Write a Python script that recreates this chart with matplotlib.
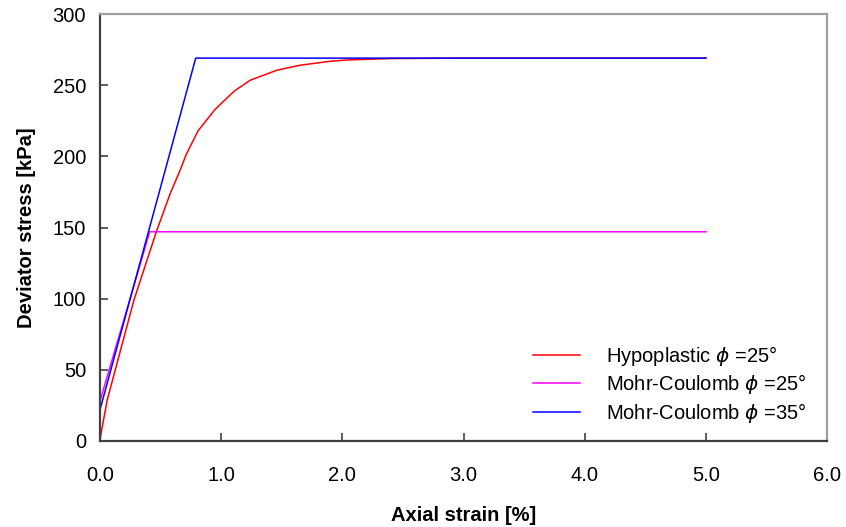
import matplotlib.pyplot as plt

plt.rcParams['font.family'] = ['Liberation Sans', 'DejaVu Sans']
plt.rcParams['mathtext.fontset'] = 'dejavusans'

# Hypoplastic model, phi = 25 deg
hypo_strain = [0.0, 0.01, 0.06, 0.28, 0.465, 0.58, 0.665, 0.71, 0.81, 0.95,
               1.11, 1.24, 1.46, 1.65, 1.9, 2.04, 2.4, 3.0, 5.0]
hypo_stress = [0, 6, 29, 99, 147, 174, 191, 201, 218, 233,
               246, 253.5, 260.5, 264, 266.8, 267.7, 268.7, 269, 269]

# Mohr-Coulomb, phi = 25 deg
mc25_strain = [0.0, 0.41, 5.0]
mc25_stress = [28, 147, 147]

# Mohr-Coulomb, phi = 35 deg
mc35_strain = [0.0, 0.79, 5.0]
mc35_stress = [22, 269, 269]

x_ticks = [0, 1, 2, 3, 4, 5, 6]
y_ticks = [0, 50, 100, 150, 200, 250, 300]

fig = plt.figure(figsize=(8.46, 5.27), dpi=100)
ax = fig.add_axes([100 / 846, 86 / 527, 727 / 846, 427 / 527])

ax.plot(hypo_strain, hypo_stress, color='#ff0000', lw=1.1,
        label=r'Hypoplastic $\phi$ =25°')
ax.plot(mc25_strain, mc25_stress, color='#ff00ff', lw=1.1,
        label=r'Mohr-Coulomb $\phi$ =25°')
ax.plot(mc35_strain, mc35_stress, color='#0000ff', lw=1.1,
        label=r'Mohr-Coulomb $\phi$ =35°')

ax.set_xlim(0, 6)
ax.set_ylim(0, 300)
ax.set_xticks(x_ticks)
ax.set_xticklabels([f'{v:.1f}' for v in x_ticks])
ax.set_yticks(y_ticks)
ax.tick_params(direction='in', length=5.5, width=1.2, colors='#404040',
               labelcolor='black', labelsize=14.5, pad=10)
ax.tick_params(axis='x', pad=18)

for side in ('left', 'bottom'):
    ax.spines[side].set_color('#404040')
    ax.spines[side].set_linewidth(1.6)
for side in ('top', 'right'):
    ax.spines[side].set_color('#a0a0a0')
    ax.spines[side].set_linewidth(1.6)

ax.set_xlabel('Axial strain [%]', fontsize=14.5, fontweight='bold', labelpad=15)
ax.set_ylabel('Deviator stress [kPa]', fontsize=14.5, fontweight='bold', labelpad=12)

ax.legend(loc='upper left', bbox_to_anchor=(0.57, 0.27), frameon=False,
          fontsize=14.5, handlelength=2.35, handletextpad=1.3,
          labelspacing=0.22)

fig.savefig('out.png', dpi=100)
